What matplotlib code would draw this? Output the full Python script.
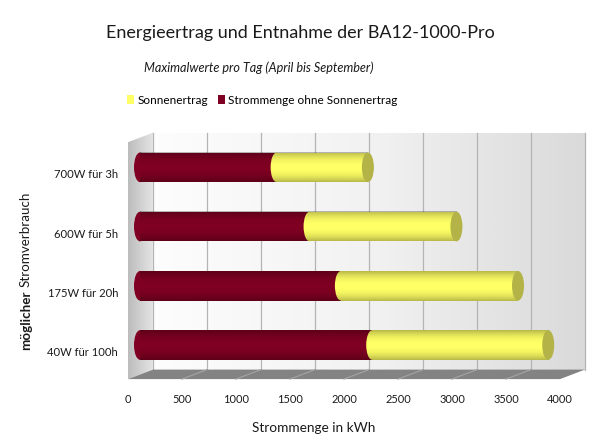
import numpy as np
import matplotlib
matplotlib.use("Agg")
import matplotlib.pyplot as plt
from matplotlib.patches import Polygon, Ellipse, Patch
from matplotlib.colors import LinearSegmentedColormap
from matplotlib.transforms import ScaledTranslation

# ---------------- data ----------------
categories = ["40W für 100h", "175W für 20h", "600W für 5h", "700W für 3h"]
strom_ohne_sonne = [2150, 1860, 1570, 1265]
sonnenertrag = [1630, 1640, 1360, 845]
xtick_values = [0, 500, 1000, 1500, 2000, 2500, 3000, 3500, 4000]
series_names = ["Sonnenertrag", "Strommenge ohne Sonnenertrag"]
title_text = "Energieertrag und Entnahme der BA12-1000-Pro"
subtitle_text = "Maximalwerte pro Tag (April bis September)"
xlabel_text = "Strommenge in kWh"
ylabel_bold = "möglicher"
ylabel_rest = "Stromverbrauch"

# ---------------- styling ----------------
plt.rcParams['font.family'] = ['Lato', 'DejaVu Sans']
MAROON = "#7f0022"
YELLOW = "#ffff66"
CAP = "#b3b347"
TXT = "#1a1a1a"

W, H = 601, 443
DPI = 100
fig = plt.figure(figsize=(W / DPI, H / DPI), dpi=DPI)
fig.patch.set_facecolor("white")
renderer = fig.canvas.get_renderer()

# mid-depth plane mapping (pixels)
PX0, PX1 = 140, 572          # value 0 / XMAX
PYB, PYT = 374.6, 137.7      # y = -0.5 / y = n-0.5
XMAX = 4000
n = len(categories)
sx = XMAX / (PX1 - PX0)
sy = n / (PYB - PYT)

# axes box (pixels), larger than the plane to contain the 3D box
AL, AR, AT, AB = 112, 595, 120, 392
ax = fig.add_axes([AL / W, 1 - AB / H, (AR - AL) / W, (AB - AT) / H])
xlim = ((AL - PX0) * sx, XMAX + (AR - PX1) * sx)
ylim = (-0.5 - (AB - PYB) * sy, n - 0.5 + (PYT - AT) * sy)
ax.patch.set_visible(False)
for s in ax.spines.values():
    s.set_visible(False)

bx, by = 13 * sx, 5 * sy       # back plane offset
fx, fy = -12 * sx, -4.5 * sy   # front plane offset
y0, y1 = -0.5, n - 0.5

grad = np.linspace(0, 1, 256).reshape(1, -1)

# back wall gradient
wall_cmap = LinearSegmentedColormap.from_list("w", ["#fdfdfd", "#f2f2f2", "#dadada"])
ax.imshow(grad, extent=[bx, XMAX + bx, y0 + by, y1 + by], aspect="auto",
          cmap=wall_cmap, zorder=0, interpolation="bicubic")

# back wall grid lines
for v in xtick_values:
    ax.plot([v + bx, v + bx], [y0 + by, y1 + by], color="#b4b4b4", lw=0.9, zorder=1)

# left side wall
side = Polygon([(fx, y0 + fy), (bx, y0 + by), (bx, y1 + by), (fx, y1 + fy)],
               closed=True, facecolor="none", edgecolor="none", zorder=1)
ax.add_patch(side)
side_cmap = LinearSegmentedColormap.from_list("s", ["#bcbcbc", "#e4e4e4"])
im = ax.imshow(grad, extent=[fx, bx, y0 + fy, y1 + by], aspect="auto",
               cmap=side_cmap, zorder=1, interpolation="bicubic")
im.set_clip_path(side)

# floor
floor = Polygon([(fx, y0 + fy), (XMAX + fx, y0 + fy), (XMAX + bx, y0 + by), (bx, y0 + by)],
                closed=True, facecolor="#838383", edgecolor="none", zorder=2)
ax.add_patch(floor)
for v in xtick_values[1:-1]:
    ax.plot([v + bx, v + fx], [y0 + by, y0 + fy], color="#a4a4a4", lw=0.8, zorder=2)

# ---------------- cylinders ----------------
h = 0.5
ew = 12 * sx
ypos = np.arange(n)
ax.barh(ypos, strom_ohne_sonne, left=0, height=h, color=MAROON, zorder=5)
ax.barh(ypos, sonnenertrag, left=strom_ohne_sonne, height=h, color=YELLOW, zorder=6)
for i in range(n):
    r = strom_ohne_sonne[i]
    tot = r + sonnenertrag[i]
    ax.add_patch(Ellipse((0, ypos[i]), ew, h, facecolor=MAROON, edgecolor="none", zorder=5))
    ax.add_patch(Ellipse((r, ypos[i]), ew, h, facecolor=YELLOW, edgecolor="none", zorder=6))
    ax.add_patch(Ellipse((tot, ypos[i]), ew, h, facecolor=CAP, edgecolor="none", zorder=7))

# subtle cylinder shading overlay
prof = np.linspace(-1, 1, 64)
alpha_prof = np.clip(0.28 * np.abs(prof) ** 2.2, 0, 1)
shade = np.zeros((64, 1, 4))
shade[:, 0, 3] = alpha_prof
for i in range(n):
    tot = strom_ohne_sonne[i] + sonnenertrag[i]
    ax.imshow(shade, extent=[0, tot, ypos[i] - h / 2, ypos[i] + h / 2], aspect="auto",
              zorder=6.5, interpolation="bilinear")

ax.set_xlim(*xlim)
ax.set_ylim(*ylim)

# ---------------- ticks ----------------
def fit(t, target, use_height=False):
    ext = t.get_window_extent(renderer)
    w = ext.height if use_height else ext.width
    t.set_fontsize(t.get_fontsize() * target / w)
    return t.get_fontsize()

probe = fig.text(0, 0, "2000", fontsize=10)
xt_size = fit(probe, 25.5)
probe.remove()
probe = fig.text(0, 0, "40W für 100h", fontsize=10)
yt_size = fit(probe, 71)
probe.remove()

ax.set_xticks(xtick_values)
ax.set_xticklabels([str(v) for v in xtick_values], fontsize=xt_size, color=TXT)
ax.set_yticks(ypos)
ax.set_yticklabels(categories, fontsize=yt_size, color=TXT)
ax.tick_params(axis="both", length=0, pad=0)
# place labels on the front plane
for lab in ax.get_xticklabels():
    lab.set_transform(lab.get_transform() +
                      ScaledTranslation((fx / sx) / DPI, -(394 - AB) / DPI, fig.dpi_scale_trans))
for lab in ax.get_yticklabels():
    lab.set_transform(lab.get_transform() +
                      ScaledTranslation((118 - AL) / DPI, -6.5 / DPI, fig.dpi_scale_trans))

# ---------------- texts ----------------
t = fig.text(300 / W, 1 - 33 / H, title_text, ha="center", va="center", fontsize=15, color=TXT)
fit(t, 390)
t = fig.text(259 / W, 1 - 68 / H, subtitle_text, ha="center", va="center", fontsize=10,
             style="italic", color=TXT)
fit(t, 230)
t = fig.text(314 / W, 1 - 428 / H, xlabel_text, ha="center", va="center", fontsize=10, color=TXT)
fit(t, 123)

# y label: bold first word, normal rest, rotated, sharing a baseline
probe = fig.text(0, 0, ylabel_bold + " " + ylabel_rest, fontsize=10)
yl_size = fit(probe, 157)
probe.remove()
base_x = 30 / W
start_y = 1 - 350 / H
t1 = fig.text(base_x, start_y, ylabel_bold, rotation=90, rotation_mode="anchor",
              ha="left", va="baseline", fontsize=yl_size, fontweight="bold", color=TXT)
h1 = t1.get_window_extent(renderer).height
t2 = fig.text(base_x, start_y + (h1 + 3.5) / H, ylabel_rest, rotation=90, rotation_mode="anchor",
              ha="left", va="baseline", fontsize=yl_size, color=TXT)

probe = fig.text(0, 0, series_names[1], fontsize=10)
lg_size = fit(probe, 168)
probe.remove()
handles = [Patch(facecolor=YELLOW, edgecolor="none", label=series_names[0]),
           Patch(facecolor=MAROON, edgecolor="none", label=series_names[1])]
fig.legend(handles=handles, loc="center", bbox_to_anchor=(262.5 / W, 1 - 100 / H), ncol=2,
           frameon=False, fontsize=lg_size, handlelength=0.6, handleheight=0.9,
           handletextpad=0.3, columnspacing=0.8, borderpad=0)

fig.savefig("out.png", dpi=DPI, facecolor="white")
